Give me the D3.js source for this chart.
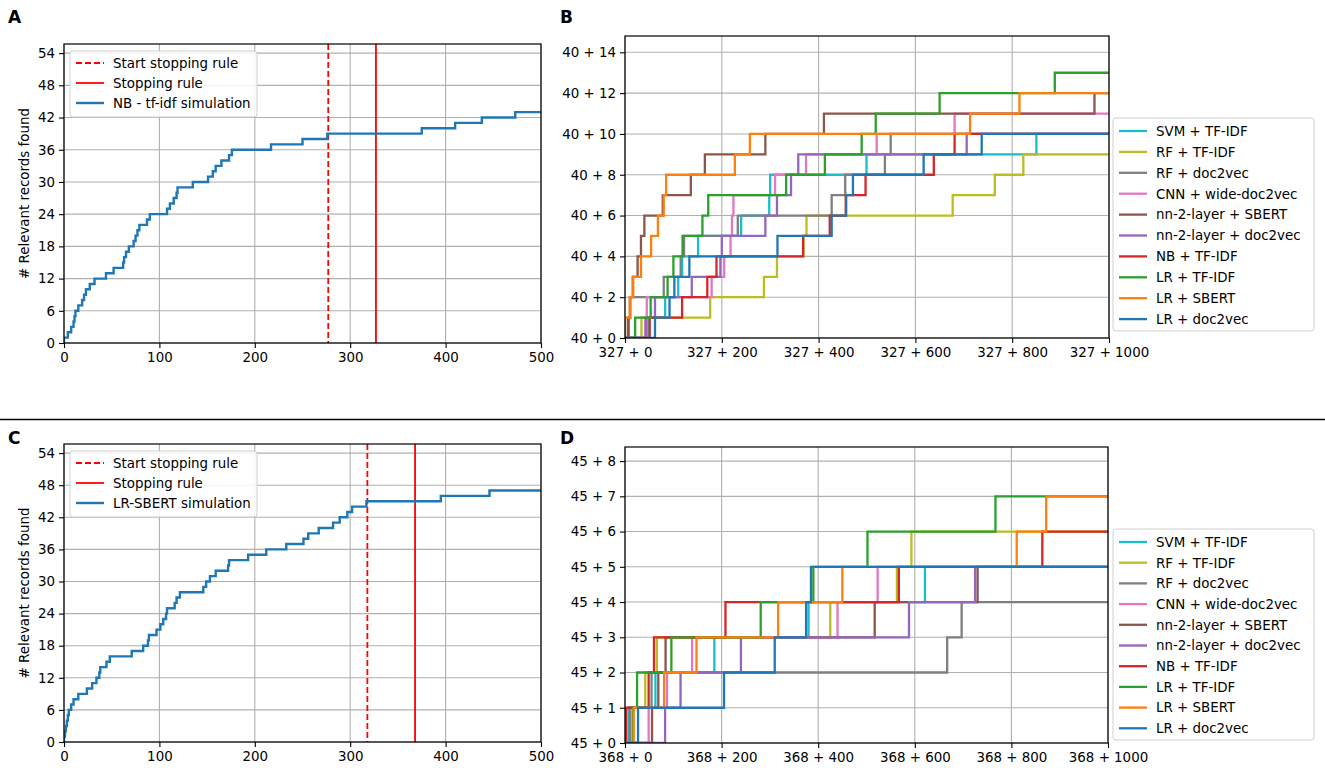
<!DOCTYPE html>
<html>
<head>
<meta charset="utf-8">
<script src="https://cdn.jsdelivr.net/npm/d3@7"></script>
<style>
body { margin: 0; background: #fff; }
text { font-family: "DejaVu Sans", sans-serif; }
</style>
</head>
<body>
<svg id="fig" width="1325" height="768"></svg>
<script>
// ---- data ----
var simXTicks = [0, 100, 200, 300, 400, 500];
var simYTicks = [0, 6, 12, 18, 24, 30, 36, 42, 48, 54];

// screening position at which each relevant record was found
var nbTfidfFound = [0, 4, 7.5, 10, 11, 12, 15, 19, 21, 23, 27, 32, 44, 52, 62, 63, 65, 68, 73, 75,
  77, 79, 87, 90, 108, 111, 115, 118, 119, 135, 151, 156, 159, 165, 173, 176, 217, 250, 276,
  375, 410, 438, 473];
var lrSbertFound = [0, 1, 2, 3, 4, 5, 7.5, 10, 15, 24, 29.5, 34, 37, 38, 44.5, 48, 71, 83, 88, 89,
  97, 101, 104, 107, 108, 116, 118, 121.5, 146, 149, 153, 159, 172, 173, 193, 212, 233, 251,
  256, 267, 282, 289, 297, 302, 317, 395, 446];

var aStartRule = 277, aStopRule = 327;
var cStartRule = 318, cStopRule = 368;

var modelNames = ["SVM + TF-IDF", "RF + TF-IDF", "RF + doc2vec", "CNN + wide-doc2vec",
  "nn-2-layer + SBERT", "nn-2-layer + doc2vec", "NB + TF-IDF", "LR + TF-IDF",
  "LR + SBERT", "LR + doc2vec"];
var modelColors = ["#17becf", "#bcbd22", "#7f7f7f", "#e377c2", "#8c564b",
  "#9467bd", "#d62728", "#2ca02c", "#ff7f0e", "#1f77b4"];

var cmpXTicks = [0, 200, 400, 600, 800, 1000];
var bYTicks = [0, 2, 4, 6, 8, 10, 12, 14];
var dYTicks = [0, 1, 2, 3, 4, 5, 6, 7, 8];
var bOffsetX = 327, bOffsetY = 40;
var dOffsetX = 368, dOffsetY = 45;

// extra records found after the stopping point, per model (same order as modelNames)
var bFoundAt = [
  [48, 83, 110, 118, 151, 240, 298, 300, 499, 850],
  [34, 176, 287, 314, 369, 375, 677, 764, 823],
  [8, 10, 80, 115, 122, 233, 427, 455, 537, 549],
  [42, 45, 179, 205, 218, 221, 224, 310, 374, 520, 681],
  [6, 11, 16, 26, 33, 40, 78, 136, 165, 290, 411, 970],
  [43, 62, 138, 197, 200, 290, 314, 343, 358, 706],
  [51, 118, 170, 189, 368, 423, 456, 497, 638, 681],
  [21, 53, 88, 100, 119, 160, 172, 333, 413, 489, 518, 650, 888],
  [0, 10, 17, 33, 54, 68, 80, 85, 227, 258, 713, 815],
  [62, 92, 102, 133, 315, 427, 457, 471, 617, 737]
];
var dFoundAt = [
  [7, 63, 185, 380, 621],
  [13, 42, 66, 425, 563, 593],
  [10, 55, 667, 697],
  [49, 87, 139, 440, 523],
  [56, 69, 84, 517, 730],
  [83, 115, 240, 588, 725],
  [2, 49, 60, 208, 567, 864],
  [17, 25, 96, 281, 390, 502, 767],
  [18, 81, 148, 317, 450, 811, 872],
  [27, 205, 310, 375, 385]
];

// ---- drawing ----
var svg = d3.select("#fig");
var FS = 13.4;
var clipId = 0;

function stepPoints(found, xEnd) {
  var pts = [[0, 0]];
  found.forEach(function(x, i) { pts.push([x, i + 1]); });
  pts.push([xEnd, found.length]);
  return pts;
}

function panel(cfg) {
  var g = svg.append("g");
  var x = d3.scaleLinear().domain(cfg.xDomain).range([cfg.left, cfg.right]);
  var y = d3.scaleLinear().domain(cfg.yDomain).range([cfg.bottom, cfg.top]);

  var id = "clip" + (clipId++);
  svg.append("clipPath").attr("id", id).append("rect")
    .attr("x", cfg.left).attr("y", cfg.top)
    .attr("width", cfg.right - cfg.left).attr("height", cfg.bottom - cfg.top);

  // grid
  g.append("g").selectAll("line").data(cfg.xTicks).join("line")
    .attr("x1", function(d) { return x(d); }).attr("x2", function(d) { return x(d); })
    .attr("y1", cfg.top).attr("y2", cfg.bottom)
    .attr("stroke", "#b0b0b0").attr("stroke-width", 1.1);
  g.append("g").selectAll("line").data(cfg.yTicks).join("line")
    .attr("y1", function(d) { return y(d); }).attr("y2", function(d) { return y(d); })
    .attr("x1", cfg.left).attr("x2", cfg.right)
    .attr("stroke", "#b0b0b0").attr("stroke-width", 1.1);

  var xa = g.append("g").attr("transform", "translate(0," + cfg.bottom + ")")
    .call(d3.axisBottom(x).tickValues(cfg.xTicks).tickFormat(cfg.xFmt)
      .tickSize(5).tickPadding(4).tickSizeOuter(0));
  var ya = g.append("g").attr("transform", "translate(" + cfg.left + ",0)")
    .call(d3.axisLeft(y).tickValues(cfg.yTicks).tickFormat(cfg.yFmt)
      .tickSize(5).tickPadding(4).tickSizeOuter(0));
  [xa, ya].forEach(function(a) {
    a.select(".domain").remove();
    a.attr("font-size", FS).attr("font-family", "DejaVu Sans, sans-serif");
    a.selectAll("text").attr("fill", "#000");
    a.selectAll("line").attr("stroke", "#000").attr("stroke-width", 1.1);
  });

  var plot = g.append("g").attr("clip-path", "url(#" + id + ")");
  return { g: g, plot: plot, x: x, y: y, cfg: cfg };
}

function frame(p) {
  var c = p.cfg;
  p.g.append("rect").attr("x", c.left).attr("y", c.top)
    .attr("width", c.right - c.left).attr("height", c.bottom - c.top)
    .attr("fill", "none").attr("stroke", "#000").attr("stroke-width", 1.2);
}

function legend(g, bx, by, bw, bh, rowY, rowGap, items) {
  g.append("rect").attr("x", bx).attr("y", by).attr("width", bw).attr("height", bh)
    .attr("rx", 3).attr("fill", "#fff").attr("fill-opacity", 0.85)
    .attr("stroke", "#d0d0d0").attr("stroke-width", 1);
  items.forEach(function(it, i) {
    var cy = by + rowY + i * rowGap;
    g.append("line").attr("x1", bx + 6).attr("x2", bx + 34).attr("y1", cy).attr("y2", cy)
      .attr("stroke", it.color).attr("stroke-width", it.width)
      .attr("stroke-dasharray", it.dash || null);
    g.append("text").attr("x", bx + 43).attr("y", cy).attr("dy", "0.36em")
      .attr("font-size", FS).text(it.label);
  });
}

var line = function(p) {
  return d3.line().x(function(d) { return p.x(d[0]); }).y(function(d) { return p.y(d[1]); })
    .curve(d3.curveStepAfter);
};

function simPanel(cfg, found, startRule, stopRule, simLabel) {
  var p = panel(cfg);
  p.plot.append("line").attr("x1", p.x(startRule)).attr("x2", p.x(startRule))
    .attr("y1", cfg.top).attr("y2", cfg.bottom)
    .attr("stroke", "#ff0000").attr("stroke-width", 1.8).attr("stroke-dasharray", "6,3");
  p.plot.append("line").attr("x1", p.x(stopRule)).attr("x2", p.x(stopRule))
    .attr("y1", cfg.top).attr("y2", cfg.bottom)
    .attr("stroke", "#ff0000").attr("stroke-width", 1.8);
  p.plot.append("path").datum(stepPoints(found, cfg.xDomain[1]))
    .attr("d", line(p)).attr("fill", "none")
    .attr("stroke", "#1f77b4").attr("stroke-width", 2.4);
  frame(p);
  legend(p.g, cfg.left + 6, cfg.top + 7, 187, 66, 12, 20, [
    { label: "Start stopping rule", color: "#ff0000", width: 1.8, dash: "6,3" },
    { label: "Stopping rule", color: "#ff0000", width: 1.8 },
    { label: simLabel, color: "#1f77b4", width: 2.4 }
  ]);
  p.g.append("text").attr("transform",
      "translate(" + (cfg.left - 35) + "," + ((cfg.top + cfg.bottom) / 2) + ") rotate(-90)")
    .attr("text-anchor", "middle").attr("font-size", FS)
    .text("# Relevant records found");
  return p;
}

function cmpPanel(cfg, foundAt, legTop, legH, legGap) {
  var p = panel(cfg);
  foundAt.forEach(function(found, i) {
    p.plot.append("path").datum(stepPoints(found, cfg.xDomain[1]))
      .attr("d", line(p)).attr("fill", "none")
      .attr("stroke", modelColors[i]).attr("stroke-width", 2.3);
  });
  frame(p);
  legend(p.g, 1113, legTop, 201, legH, 13, legGap, modelNames.map(function(n, i) {
    return { label: n, color: modelColors[i], width: 2.3 };
  }));
  return p;
}

simPanel({ left: 64, right: 541, top: 44, bottom: 343, xDomain: [0, 500], yDomain: [0, 55.7],
  xTicks: simXTicks, yTicks: simYTicks, xFmt: d3.format("d"), yFmt: d3.format("d") },
  nbTfidfFound, aStartRule, aStopRule, "NB - tf-idf simulation");

simPanel({ left: 64, right: 541, top: 444, bottom: 742, xDomain: [0, 500], yDomain: [0, 55.7],
  xTicks: simXTicks, yTicks: simYTicks, xFmt: d3.format("d"), yFmt: d3.format("d") },
  lrSbertFound, cStartRule, cStopRule, "LR-SBERT simulation");

cmpPanel({ left: 625, right: 1109, top: 36, bottom: 338, xDomain: [0, 1000], yDomain: [0, 14.8],
  xTicks: cmpXTicks, yTicks: bYTicks,
  xFmt: function(d) { return bOffsetX + " + " + d; },
  yFmt: function(d) { return bOffsetY + " + " + d; } },
  bFoundAt, 118, 213, 20.9);

cmpPanel({ left: 625, right: 1108, top: 447, bottom: 743, xDomain: [0, 1000], yDomain: [0, 8.4],
  xTicks: cmpXTicks, yTicks: dYTicks,
  xFmt: function(d) { return dOffsetX + " + " + d; },
  yFmt: function(d) { return dOffsetY + " + " + d; } },
  dFoundAt, 529, 211, 20.7);

// divider between the two rows
svg.append("line").attr("x1", 0).attr("x2", 1325).attr("y1", 419.5).attr("y2", 419.5)
  .attr("stroke", "#000").attr("stroke-width", 1.6);

// panel letters
[["A", 8, 23], ["B", 560, 23], ["C", 8, 444], ["D", 560, 444]].forEach(function(l) {
  svg.append("text").attr("x", l[1]).attr("y", l[2]).attr("font-size", 17)
    .attr("font-weight", "bold").text(l[0]);
});
</script>
</body>
</html>
